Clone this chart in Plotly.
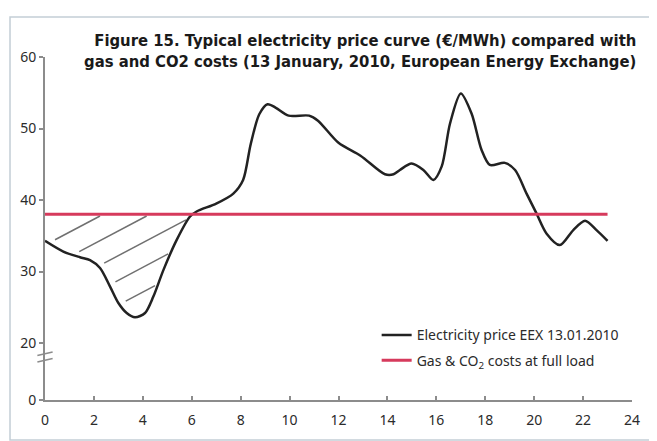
import numpy as np
import plotly.graph_objects as go

# ---- data ----
hours = [0, 0.75, 1.43, 1.84, 2.25, 2.66, 3.0, 3.34, 3.68, 4.09, 4.43, 4.84, 5.38, 5.93,
         6.2, 7.0, 7.7, 8.1, 8.41, 8.76, 9.1, 9.44, 9.96, 10.8, 11.16, 12.0, 12.9, 13.9,
         14.25, 14.51, 14.99, 15.47, 15.88, 16.22, 16.56, 17.0, 17.44, 17.85, 18.19, 18.8,
         19.22, 19.69, 20.1, 20.51, 21.05, 21.6, 22.08, 22.55, 23.0]
price = [34.3, 32.8, 32.0, 31.6, 30.5, 27.9, 25.6, 24.2, 23.6, 24.2, 26.5, 30.2, 34.4, 37.7,
         38.4, 39.5, 40.9, 42.8, 47.8, 52.0, 53.4, 52.9, 51.8, 51.8, 51.1, 48.0, 46.2, 43.6,
         43.6, 44.2, 45.1, 44.2, 42.8, 44.7, 50.7, 54.9, 52.1, 47.0, 44.9, 45.2,
         44.2, 40.9, 38.1, 35.3, 33.7, 35.8, 37.1, 35.8, 34.3]
cost_hours = [0, 23]
cost_level = 38

ytick_values = [0, 20, 30, 40, 50, 60]
xtick_values = list(range(0, 25, 2))

# broken axis: values >= 20 plotted as-is, 0 plotted at ZERO_POS
ZERO_POS = 12.04
BREAK_POS = (18.5, 17.6)

# hatch decoration (lines y = b + slope*h inside the area under the cost level)
hatch_intercepts = [33.7, 30.25, 26.8, 23.35, 19.9]
hatch_slope = 1.81
hatch_range = (0.0, 6.0)
hatch_margin = 0.25


def ymap(v):
    return ZERO_POS if v == 0 else v


series_name = "Electricity price EEX 13.01.2010"
cost_name = "Gas & CO<sub>2</sub> costs at full load"
title_text = ("<b>Figure 15. Typical electricity price curve (€/MWh) compared with<br>"
              "gas and CO2 costs (13 January, 2010, European Energy Exchange)</b>")

BLACK = "#222222"
RED = "#d63a5c"
AXIS = "#8c8c8c"
TXT = "#2b2b2b"

fig = go.Figure()

# hatching computed from the curve
grid = np.arange(hatch_range[0], hatch_range[1], 0.005)
curve = np.interp(grid, hours, price)
hxs, hys = [], []
for b in hatch_intercepts:
    line = b + hatch_slope * grid
    inside = (line > curve) & (line < cost_level)
    idx = np.where(inside)[0]
    if len(idx) == 0:
        continue
    run_end = idx[0]
    for i in idx[1:]:
        if i == run_end + 1:
            run_end = i
        else:
            break
    h0 = grid[idx[0]] + hatch_margin
    h1 = grid[run_end] - hatch_margin * 0.5
    if h1 <= h0:
        continue
    hxs += [h0, h1, None]
    hys += [b + hatch_slope * h0, b + hatch_slope * h1, None]

fig.add_trace(go.Scatter(x=hxs, y=hys, mode="lines", line=dict(color="#707070", width=1.5),
                         showlegend=False, hoverinfo="skip"))

fig.add_trace(go.Scatter(x=hours, y=price, mode="lines", name=series_name,
                         legendgroup="a",
                         line=dict(color=BLACK, width=2.5, shape="spline", smoothing=0.8)))
fig.add_trace(go.Scatter(x=cost_hours, y=[cost_level] * len(cost_hours), mode="lines",
                         name=cost_name, legendgroup="b",
                         line=dict(color=RED, width=3)))

# axis break marks
for yb in BREAK_POS:
    fig.add_shape(type="line", xref="paper", yref="y", x0=-0.013, x1=0.013,
                  y0=yb - 0.25, y1=yb + 0.25, line=dict(color=AXIS, width=1.5))

# outer frame
fig.add_shape(type="rect", xref="paper", yref="paper", x0=-0.0596, x1=1.034,
              y0=-0.1166, y1=1.1166, line=dict(color="#c3ced6", width=1.5), layer="below")

fig.add_annotation(text=title_text, xref="paper", yref="paper", x=1.0102, y=1.083,
                   xanchor="right", yanchor="top", align="right", showarrow=False,
                   font=dict(family="DejaVu Sans Condensed, sans-serif",
                             size=16.5, color="#1a1a1a"))

# the page body adds an 8px offset; figure sized so the chart fits the window
fig.update_layout(
    width=649, height=433, autosize=False,
    margin=dict(l=37, r=25, t=49, b=41),
    paper_bgcolor="white", plot_bgcolor="white",
    font=dict(family="Noto Sans, sans-serif", size=14, color=TXT),
    showlegend=True,
    legend=dict(x=0.565, y=0.235, xanchor="left", yanchor="top",
                bgcolor="rgba(0,0,0,0)", font=dict(size=14, color=TXT),
                traceorder="grouped", tracegroupgap=4),
    xaxis=dict(range=[0, 24], tickvals=xtick_values, ticks="inside", ticklen=4,
               tickcolor=AXIS, tickwidth=1.5, showline=True, linecolor=AXIS, linewidth=2,
               showgrid=False, zeroline=False, fixedrange=True, ticklabelstandoff=6),
    yaxis=dict(range=[ZERO_POS, 60], tickvals=[ymap(v) for v in ytick_values],
               ticktext=[str(v) for v in ytick_values], ticks="outside", ticklen=4,
               tickcolor=AXIS, tickwidth=1.5, showline=True, linecolor=AXIS, linewidth=2,
               showgrid=False, zeroline=False, fixedrange=True),
)

fig.write_html("out.html")
